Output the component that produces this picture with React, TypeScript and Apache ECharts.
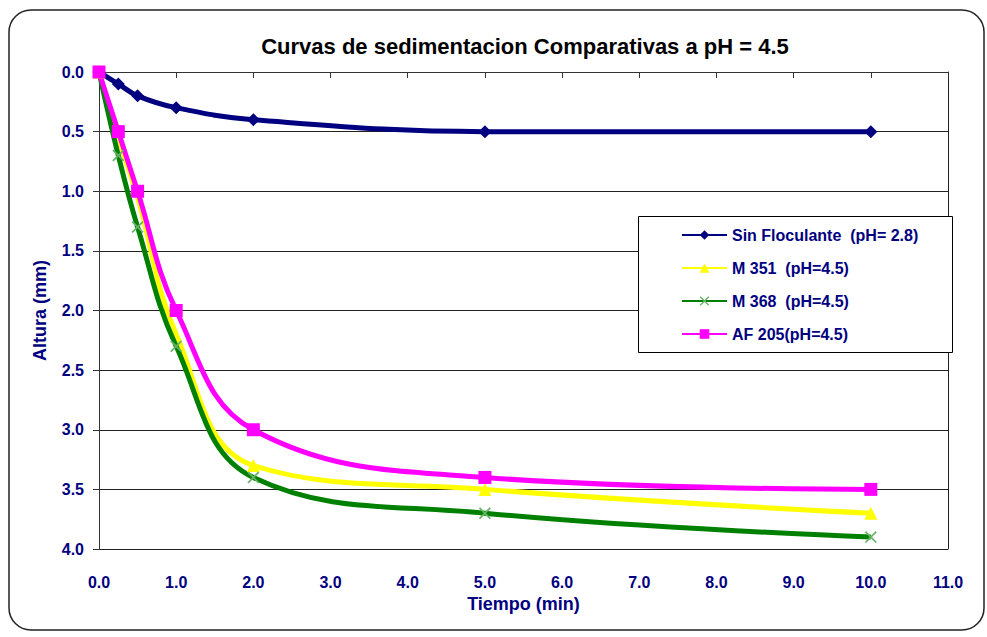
import React, { useEffect, useRef } from "react";
import * as echarts from "echarts";

const times = [0, 0.25, 0.5, 1, 2, 5, 10];
const sinFloculante = [0, 0.1, 0.2, 0.3, 0.4, 0.5, 0.5];
const m351 = [0, 0.55, 1.05, 2.2, 3.3, 3.5, 3.7];
const m368 = [0, 0.7, 1.3, 2.3, 3.4, 3.7, 3.9];
const af205 = [0, 0.5, 1.0, 2.0, 3.0, 3.4, 3.5];
const seriesNames = ["Sin Floculante  (pH= 2.8)", "M 351  (pH=4.5)", "M 368  (pH=4.5)", "AF 205(pH=4.5)"];
const hiddenYellowMarkers = [1, 2, 3];

const FONT = "'Liberation Sans', Arial, sans-serif";
const NAVY = "#000080";
const X_SYMBOL = "path://M0,1L1,0L5,4L9,0L10,1L6,5L10,9L9,10L5,6L1,10L0,9L4,5Z";

export default function App() {
  const ref = useRef<HTMLDivElement>(null);
  useEffect(() => {
    if (!ref.current) return;
    const chart = echarts.init(ref.current, undefined, { renderer: "svg" });
    const pairs = (ys: number[]) => times.map((t, i) => [t, ys[i]]);
    chart.setOption({
      animation: false,
      backgroundColor: "#ffffff",
      textStyle: { fontFamily: FONT },
      title: {
        text: "Curvas de sedimentacion Comparativas a pH = 4.5",
        left: 520,
        top: 30,
        textAlign: "center",
        textStyle: { fontFamily: FONT, fontSize: 22, fontWeight: "bold", color: "#000" },
      },
      graphic: [
        {
          type: "rect",
          shape: { x: 9, y: 10, width: 975, height: 620, r: 22 },
          style: { fill: "none", stroke: "#222", lineWidth: 1.5 },
          z: -1,
        },
        {
          type: "rect",
          shape: { x: 638.5, y: 216.5, width: 314, height: 136 },
          style: { fill: "#fff", stroke: "#000", lineWidth: 1 },
          z: 10,
        },
      ],
      legend: {
        orient: "vertical",
        left: 676,
        top: 222,
        itemWidth: 45,
        itemHeight: 12,
        itemGap: 17,
        z: 11,
        textStyle: { fontFamily: FONT, fontSize: 16, fontWeight: "bold", color: NAVY },
        data: seriesNames,
      },
      grid: { left: 99, right: 39, top: 72, bottom: 88 },
      xAxis: {
        type: "value",
        min: 0,
        max: 11,
        interval: 1,
        name: "Tiempo (min)",
        nameLocation: "middle",
        nameGap: 45,
        nameTextStyle: { fontFamily: FONT, fontSize: 18, fontWeight: "bold", color: NAVY },
        axisLine: { show: true, lineStyle: { color: "#333", width: 1 } },
        axisTick: { show: true, length: 6, lineStyle: { color: "#333" } },
        axisLabel: {
          margin: 25,
          fontFamily: FONT,
          fontSize: 16,
          fontWeight: "bold",
          color: NAVY,
          formatter: (v: number) => v.toFixed(1),
        },
        splitLine: { show: false },
      },
      yAxis: [
        {
          type: "value",
          min: 0,
          max: 4,
          interval: 0.5,
          inverse: true,
          name: "Altura (mm)",
          nameLocation: "middle",
          nameGap: 50,
          nameTextStyle: { fontFamily: FONT, fontSize: 18, fontWeight: "bold", color: NAVY },
          axisLine: { show: true, lineStyle: { color: "#333", width: 1 } },
          axisTick: { show: true, length: 6, lineStyle: { color: "#333" } },
          axisLabel: {
            margin: 15,
            fontFamily: FONT,
            fontSize: 16,
            fontWeight: "bold",
            color: NAVY,
            formatter: (v: number) => v.toFixed(1),
          },
          splitLine: { show: true, lineStyle: { color: "#222", width: 1 } },
        },
        {
          type: "value",
          position: "right",
          min: 0,
          max: 4,
          inverse: true,
          axisLine: { show: true, lineStyle: { color: "#222", width: 1 } },
          axisTick: { show: false },
          axisLabel: { show: false },
          splitLine: { show: false },
        },
      ],
      series: [
        {
          name: seriesNames[0],
          type: "line",
          smooth: 0.4,
          data: pairs(sinFloculante),
          symbol: "diamond",
          symbolSize: 13,
          lineStyle: { color: NAVY, width: 5 },
          itemStyle: { color: NAVY },
        },
        {
          name: seriesNames[1],
          type: "line",
          smooth: 0.4,
          data: pairs(m351).map((p, i) =>
            hiddenYellowMarkers.includes(i) ? { value: p, symbol: "none" } : { value: p }
          ),
          symbol: "triangle",
          symbolSize: 13,
          lineStyle: { color: "#ffff00", width: 5 },
          itemStyle: { color: "#ffff00" },
        },
        {
          name: seriesNames[2],
          type: "line",
          smooth: 0.4,
          data: pairs(m368),
          symbol: X_SYMBOL,
          symbolSize: 12,
          lineStyle: { color: "#008000", width: 5 },
          itemStyle: { color: "#66b366" },
        },
        {
          name: seriesNames[3],
          type: "line",
          smooth: 0.4,
          data: pairs(af205),
          symbol: "rect",
          symbolSize: 13,
          lineStyle: { color: "#ff00ff", width: 5 },
          itemStyle: { color: "#ff00ff" },
        },
      ],
    });
    return () => chart.dispose();
  }, []);
  return (
    <div
      ref={ref}
      style={{ position: "fixed", left: 0, top: 0, width: 987, height: 637, background: "#fff" }}
    />
  );
}
